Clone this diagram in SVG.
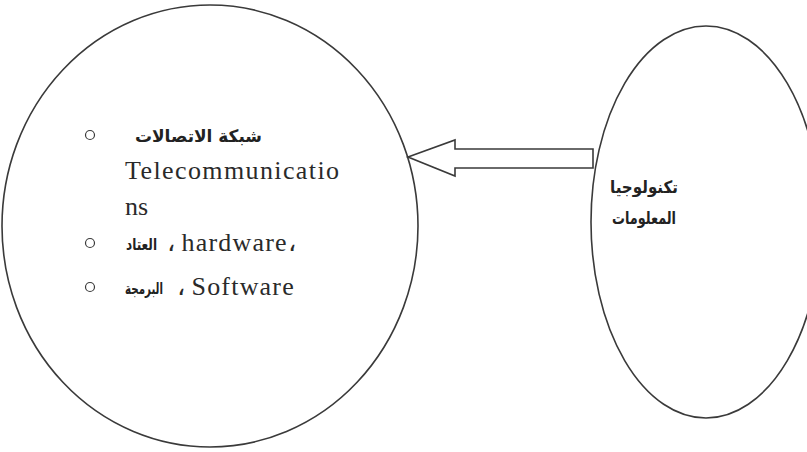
<svg xmlns="http://www.w3.org/2000/svg" width="807" height="452" viewBox="0 0 807 452">
  <style>
    .shape { fill: none; stroke: #3a3a3a; stroke-width: 1.6; }
    .bullet { fill: none; stroke: #3a3a3a; stroke-width: 1.2; }
    .lat { font-family: "Liberation Serif", "Times New Roman", serif; font-size: 26px; fill: #2a2a2a; }
    .wide { letter-spacing: 1.2px; }
    .ar { font-family: "DejaVu Sans", "Noto Sans", sans-serif; font-size: 17px; font-weight: bold; fill: #222; text-anchor: end; }
    .ar-sm { font-size: 16px; }
  </style>
  <rect width="807" height="452" fill="#ffffff"/>

  <!-- components of information technology -->
  <g id="components">
    <ellipse class="shape" cx="210" cy="226" rx="208" ry="221"/>
    <circle class="bullet" cx="90" cy="135" r="4.5"/>
    <text class="ar" x="262" y="142" textLength="127" lengthAdjust="spacingAndGlyphs">شبكة الاتصالات</text>
    <text class="lat" x="125" y="179" textLength="214" lengthAdjust="spacing">Telecommunicatio</text>
    <text class="lat" x="125" y="215">ns</text>

    <circle class="bullet" cx="90" cy="243" r="4.5"/>
    <text class="ar ar-sm" x="157" y="250" textLength="31" lengthAdjust="spacingAndGlyphs">العتاد</text>
    <text class="lat wide" x="167" y="251">، hardware،</text>

    <circle class="bullet" cx="90" cy="287" r="4.5"/>
    <text class="ar ar-sm" x="163" y="294" textLength="38" lengthAdjust="spacingAndGlyphs">البرمجة</text>
    <text class="lat wide" x="177" y="295">، Software</text>
  </g>

  <!-- information technology -->
  <g id="it">
    <ellipse class="shape" cx="706" cy="222" rx="115" ry="196"/>
    <text class="ar" x="678" y="193" textLength="68" lengthAdjust="spacingAndGlyphs">تكنولوجيا</text>
    <text class="ar" x="676" y="224" textLength="64" lengthAdjust="spacingAndGlyphs">المعلومات</text>
  </g>

  <!-- hollow block arrow -->
  <g id="connectors">
    <polygon class="shape" points="408,157 455,140 455,149 593,149 593,168 455,168 455,176"/>
  </g>
</svg>
